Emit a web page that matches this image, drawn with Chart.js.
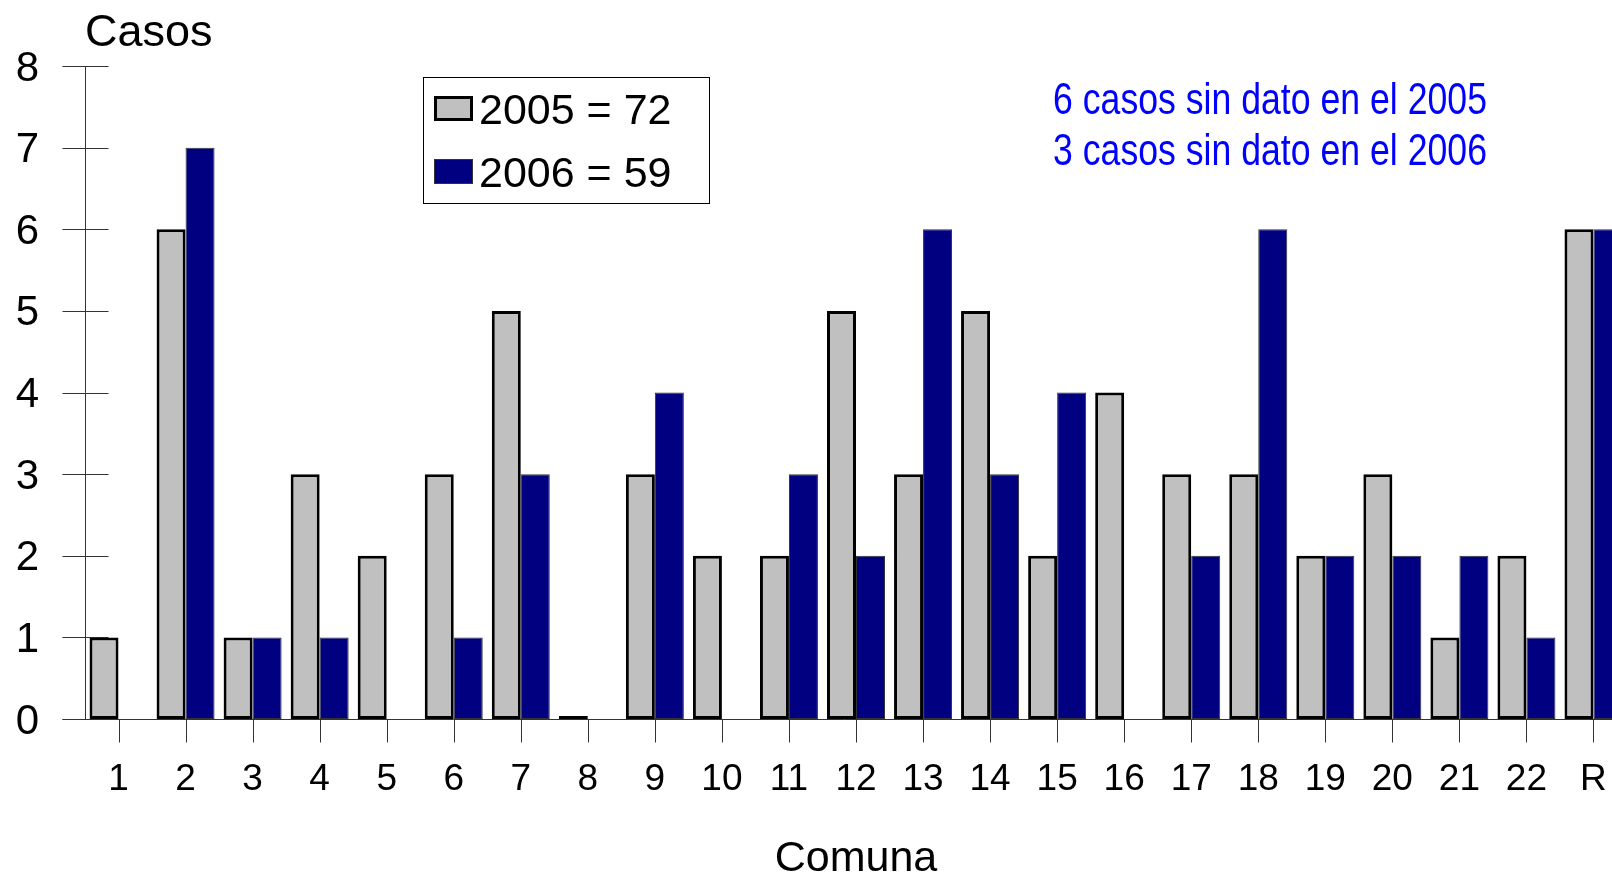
<!DOCTYPE html>
<html>
<head>
<meta charset="utf-8">
<script src="https://cdn.jsdelivr.net/npm/chart.js@4/dist/chart.umd.min.js"></script>
<style>
  html, body { margin: 0; padding: 0; background: #fff; overflow: hidden; }
  #wrap { position: absolute; left: 0; top: 0; width: 1627px; height: 876px; }
</style>
</head>
<body>
<div id="wrap"><canvas id="chart" width="1627" height="876"></canvas></div>
<script>
const comunas = ["1", "2", "3", "4", "5", "6", "7", "8", "9", "10", "11", "12",
  "13", "14", "15", "16", "17", "18", "19", "20", "21", "22", "R"];
const casos2005 = [1, 6, 1, 3, 2, 3, 5, 0, 3, 2, 2, 5, 3, 5, 2, 4, 3, 3, 2, 3, 1, 2, 6];
const casos2006 = [0, 7, 1, 1, 0, 1, 3, 0, 4, 0, 3, 2, 6, 3, 4, 0, 2, 6, 2, 2, 2, 1, 6];
const legendLabels = ["2005 = 72", "2006 = 59"];
const notas = ["6 casos sin dato en el 2005", "3 casos sin dato en el 2006"];

const FONT = "'Liberation Sans', Arial, Helvetica, sans-serif";

// axis lines and tick marks that cross the axis, like the original
const axisMarks = {
  id: "axisMarks",
  beforeDatasetsDraw(chart) {
    const { ctx, chartArea, scales: { x, y } } = chart;
    ctx.save();
    ctx.strokeStyle = "#333";
    ctx.lineWidth = 1;
    ctx.beginPath();
    const ax = Math.round(chartArea.left) + 0.5;
    const ay = Math.round(chartArea.bottom) + 0.5;
    ctx.moveTo(ax, chartArea.top);
    ctx.lineTo(ax, ay);
    y.ticks.forEach((t, i) => {
      const py = Math.round(y.getPixelForTick(i)) + 0.5;
      ctx.moveTo(ax - 23, py);
      ctx.lineTo(ax + 23, py);
    });
    ctx.moveTo(ax - 23, ay);
    ctx.lineTo(chart.width, ay);
    x.ticks.forEach((t, i) => {
      const px = Math.round(x.getPixelForTick(i)) + 0.5;
      ctx.moveTo(px, ay);
      ctx.lineTo(px, ay + 23);
    });
    ctx.stroke();
    ctx.restore();
  }
};

// boxed legend and the blue notes
const extras = {
  id: "extras",
  afterDatasetsDraw(chart) {
    const { ctx, chartArea } = chart;
    ctx.save();
    const bx = chartArea.left + 338, by = chartArea.top + 11;
    ctx.fillStyle = "#fff";
    ctx.fillRect(bx, by, 286, 126);
    ctx.strokeStyle = "#000";
    ctx.lineWidth = 1;
    ctx.strokeRect(bx + 0.5, by + 0.5, 286, 126);
    chart.data.datasets.forEach((ds, i) => {
      const sy = by + 19 + i * 63;
      ctx.fillStyle = ds.backgroundColor;
      ctx.fillRect(bx + 11, sy, 39, 25);
      ctx.lineWidth = ds.borderWidth;
      ctx.strokeStyle = ds.borderColor;
      ctx.strokeRect(bx + 11 + ds.borderWidth / 2, sy + ds.borderWidth / 2,
        39 - ds.borderWidth, 25 - ds.borderWidth);
      ctx.fillStyle = "#000";
      ctx.font = "43px " + FONT;
      ctx.textBaseline = "middle";
      ctx.textAlign = "left";
      ctx.fillText(ds.label, bx + 56, sy + 16);
    });
    // the notes use a condensed face; squeeze the regular one
    ctx.fillStyle = "#0000ff";
    ctx.font = "44px " + FONT;
    ctx.textAlign = "center";
    ctx.textBaseline = "middle";
    notas.forEach((t, i) => {
      ctx.save();
      ctx.translate(1270, 102 + i * 51);
      ctx.scale(0.81, 1);
      ctx.fillText(t, 0, 0);
      ctx.restore();
    });
    ctx.restore();
  }
};

new Chart(document.getElementById("chart"), {
  type: "bar",
  data: {
    labels: comunas,
    datasets: [{
      label: legendLabels[0],
      data: casos2005,
      backgroundColor: "#c0c0c0",
      borderColor: "#000",
      borderWidth: 3,
      borderSkipped: false,
      minBarLength: 3,
      barPercentage: 1,
      categoryPercentage: 0.865
    }, {
      label: legendLabels[1],
      data: casos2006,
      backgroundColor: "#000080",
      borderColor: "#333",
      borderWidth: 1,
      borderSkipped: false,
      barPercentage: 1,
      categoryPercentage: 0.865
    }]
  },
  options: {
    responsive: false,
    animation: false,
    // canvas is a bit wider than the window: the last group is cut off like the original
    layout: { padding: 0 },
    plugins: {
      legend: { display: false },
      tooltip: { enabled: false },
      title: {
        display: true,
        text: "Casos",
        align: "start",
        fullSize: false,
        color: "#000",
        font: { family: FONT, size: 45, weight: "normal", lineHeight: 1 },
        padding: { top: 11, bottom: 10 }
      }
    },
    scales: {
      x: {
        grid: { display: false, drawTicks: false },
        border: { display: false },
        ticks: {
          color: "#000",
          font: { family: FONT, size: 37 },
          padding: 39,
          maxRotation: 0,
          autoSkip: false
        },
        title: {
          display: true,
          text: "Comuna",
          color: "#000",
          font: { family: FONT, size: 43, lineHeight: 0.8 },
          padding: { top: 0, bottom: 0 }
        },
        afterFit(scale) {
          scale.height = 157;
          scale.paddingLeft = 0;
          scale.paddingRight = 0;
        }
      },
      y: {
        min: 0,
        max: 8,
        grid: { display: false, drawTicks: false },
        border: { display: false },
        ticks: {
          stepSize: 1,
          color: "#000",
          font: { family: FONT, size: 42 },
          padding: 46,
          labelOffset: 3
        },
        afterFit(scale) {
          scale.width = 85;
          scale.paddingTop = 0;
          scale.paddingBottom = 0;
        }
      }
    }
  },
  plugins: [axisMarks, extras]
});
</script>
</body>
</html>
